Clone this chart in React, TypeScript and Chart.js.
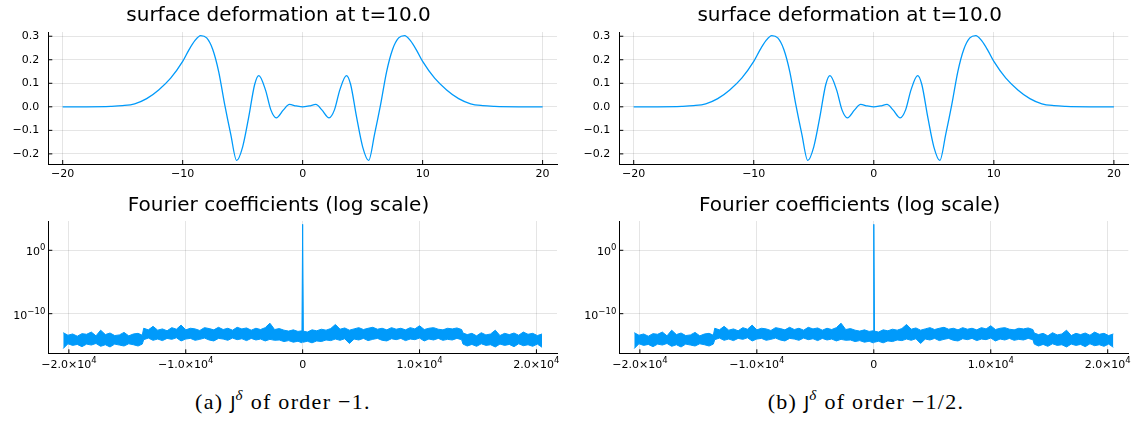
import React, { useEffect, useRef } from 'react';
import { Chart, registerables } from 'chart.js';
Chart.register(...registerables);

const BLUE = '#009AFA';

// ---- surface deformation at t=10.0 ----
const surfX = [-20, -18, -16, -15, -14, -13, -12, -11, -10, -9.5, -9, -8.5, -8, -7.5, -7, -6.5, -6, -5.5, -5, -4.5, -4, -3.65, -3.1, -2.65, -2.2, -1.6, -1.1, -0.55, 0,
  0.55, 1.1, 1.6, 2.2, 2.65, 3.1, 3.65, 4, 4.5, 5, 5.5, 6, 6.5, 7, 7.5, 8, 8.5, 9, 9.5, 10, 11, 12, 13, 14, 15, 16, 18, 20];
const surfY = [0, 0.0002, 0.002, 0.005, 0.013, 0.035, 0.072, 0.122, 0.193, 0.24, 0.28, 0.303, 0.293, 0.245, 0.15, 0.01, -0.115, -0.228, -0.17, -0.045, 0.095, 0.133, 0.072, -0.013, -0.047, -0.013, 0.01, 0.004, 0,
  0.004, 0.01, -0.013, -0.047, -0.013, 0.072, 0.133, 0.095, -0.045, -0.17, -0.228, -0.115, 0.01, 0.15, 0.245, 0.293, 0.303, 0.28, 0.24, 0.193, 0.122, 0.072, 0.035, 0.013, 0.005, 0.002, 0.0002, 0];
const surfXTicks = [-20, -10, 0, 10, 20];
const surfYTicks = [-0.2, -0.1, 0, 0.1, 0.2, 0.3];
const surfTitle = 'surface deformation at t=10.0';

// ---- Fourier coefficients (log scale) ----
const bandK = [
  -20480, -20080, -19680, -19280, -18880, -18480, -18080, -17680, -17280, -16880, -16480, -16080, -15680, -15280, -14880, -14480, -14080, -13720,
  -13600, -13200, -12800, -12400, -12000, -11600, -11200, -10800, -10400, -10000, -9600, -9200, -8800, -8400, -8000, -7600, -7200, -6800, -6400, -6000,
  -5600, -5200, -4800, -4400, -4000, -3600, -3200, -2800, -2400, -2000, -1600, -1200, -800, -400, -60,
  0,
  60, 400, 800, 1200, 1600, 2000, 2400, 2800, 3200, 3600, 4000, 4400, 4800, 5200, 5600, 6000, 6400, 6800, 7200, 7600,
  8000, 8400, 8800, 9200, 9600, 10000, 10400, 10800, 11200, 11600, 12000, 12400, 12800, 13200, 13600,
  13720, 14080, 14480, 14880, 15280, 15680, 16080, 16480, 16880, 17280, 17680, 18080, 18480, 18880, 19280, 19680, 20080, 20480];
// log10 of the upper / lower edge of the coefficient band
const bandUpperExp = [
  -13.0, -13.4, -13.2, -13.55, -13.15, -13.25, -12.9, -13.5, -12.6, -13.3, -13.05, -13.45, -13.35, -12.95, -13.5, -13.2, -13.1, -13.4,
  -12.3, -12.55, -12.0, -12.6, -12.4, -12.7, -12.2, -12.45, -11.8, -12.55, -12.3, -12.4, -12.65, -12.2, -12.35, -12.55, -12.15, -12.5, -12.3, -12.6,
  -12.15, -12.4, -12.25, -12.6, -12.3, -12.5, -12.2, -11.5, -12.5, -12.35, -12.6, -12.75, -12.55, -12.8, -12.7,
  4.1,
  -12.75, -12.9, -12.55, -12.7, -12.45, -12.6, -12.35, -11.7, -12.45, -12.25, -12.6, -12.4, -12.2, -12.5, -12.3, -12.15, -12.45, -12.3, -12.55, -12.2,
  -12.45, -12.3, -12.55, -12.2, -12.4, -11.9, -12.5, -12.3, -12.2, -12.45, -12.55, -12.3, -12.4, -12.25, -12.5,
  -13.05, -13.3, -13.1, -13.5, -13.0, -13.35, -13.2, -12.6, -13.45, -13.1, -13.3, -13.05, -13.4, -12.9, -13.25, -13.1, -13.45, -13.2];
const bandLowerExp = [
  -15.5, -14.75, -15.0, -14.85, -15.2, -14.8, -14.95, -14.7, -15.15, -14.9, -15.25, -14.8, -14.95, -15.1, -14.75, -14.9, -15.1, -14.8,
  -14.1, -13.85, -14.2, -14.0, -14.25, -13.9, -14.05, -13.8, -14.3, -14.0, -13.9, -14.2, -14.05, -13.85, -14.15, -14.3, -13.9, -14.0, -14.2, -13.85,
  -14.1, -13.95, -14.25, -13.9, -14.15, -14.0, -14.3, -14.05, -14.2, -14.15, -14.4, -14.25, -14.5, -14.35, -14.6,
  -14.4,
  -14.5, -14.35, -14.6, -14.3, -14.4, -14.15, -14.25, -14.0, -14.2, -13.95, -14.7, -14.0, -14.15, -13.9, -14.25, -14.05, -13.9, -14.2, -14.3, -13.95,
  -14.1, -13.9, -14.25, -14.0, -14.1, -13.85, -14.3, -14.0, -14.15, -13.9, -14.2, -14.05, -14.15, -13.9, -14.1,
  -14.8, -15.1, -14.85, -15.15, -14.75, -15.0, -14.9, -15.25, -14.8, -15.0, -14.85, -15.2, -14.75, -15.05, -14.9, -15.15, -14.8, -15.3];
const fourierXTicks = [-20000, -10000, 0, 10000, 20000];
const fourierXLabelBase = ['−2.0×10', '−1.0×10', '0', '1.0×10', '2.0×10'];
const fourierXLabelExp = ['4', '4', '', '4', '4'];
const fourierYTicks = [1, 1e-10];
const fourierYLabelBase = ['10', '10'];
const fourierYLabelExp = ['0', '−10'];
const fourierTitle = 'Fourier coefficients (log scale)';

const FONT = 'DejaVu Sans';
const tickFont = { family: FONT, size: 11 };
const titleFont = { family: FONT, size: 20, weight: 'normal' as const };
const gridOpts = { color: 'rgba(0,0,0,0.1)', lineWidth: 1, drawTicks: false };
const borderOpts = { display: true, color: '#000', width: 1 };

const inwardTicks = {
  id: 'inwardTicks',
  afterDatasetsDraw(chart: any) {
    const { ctx, chartArea, scales } = chart;
    ctx.save();
    ctx.strokeStyle = '#000';
    ctx.lineWidth = 1;
    scales.x.ticks.forEach((_t: any, i: number) => {
      const px = scales.x.getPixelForTick(i);
      ctx.beginPath();
      ctx.moveTo(px, chartArea.bottom);
      ctx.lineTo(px, chartArea.bottom - 4);
      ctx.stroke();
    });
    scales.y.ticks.forEach((_t: any, i: number) => {
      const py = scales.y.getPixelForTick(i);
      ctx.beginPath();
      ctx.moveTo(chartArea.left, py);
      ctx.lineTo(chartArea.left + 4, py);
      ctx.stroke();
    });
    ctx.restore();
  },
};

// tick labels with a raised exponent, placed on the library's own tick pixels
const supLabels = {
  id: 'supLabels',
  afterDraw(chart: any) {
    const { ctx, chartArea, scales } = chart;
    const baseF = `11px "${FONT}"`;
    const expF = `8.5px "${FONT}"`;
    ctx.save();
    ctx.fillStyle = '#000';
    ctx.textBaseline = 'alphabetic';
    ctx.textAlign = 'left';
    scales.x.ticks.forEach((_t: any, i: number) => {
      const px = scales.x.getPixelForTick(i);
      const b = fourierXLabelBase[i], e = fourierXLabelExp[i];
      ctx.font = baseF; const wb = ctx.measureText(b).width;
      ctx.font = expF; const we = e ? ctx.measureText(e).width : 0;
      const x0 = px - (wb + we) / 2;
      const yb = chartArea.bottom + 15;
      ctx.font = baseF; ctx.fillText(b, x0, yb);
      if (e) { ctx.font = expF; ctx.fillText(e, x0 + wb, yb - 5); }
    });
    scales.y.ticks.forEach((_t: any, i: number) => {
      const py = scales.y.getPixelForTick(i);
      const b = fourierYLabelBase[i], e = fourierYLabelExp[i];
      ctx.font = baseF; const wb = ctx.measureText(b).width;
      ctx.font = expF; const we = ctx.measureText(e).width;
      const x0 = chartArea.left - 3 - wb - we;
      const yb = py + 5;
      ctx.font = baseF; ctx.fillText(b, x0, yb);
      ctx.font = expF; ctx.fillText(e, x0 + wb, yb - 5);
    });
    ctx.restore();
  },
};

const fmtMinus = (s: string) => s.replace('-', '−');

function surfConfig(padRight: number): any {
  return {
    type: 'line',
    data: {
      datasets: [{
        data: surfX.map((x, i) => ({ x, y: surfY[i] })),
        borderColor: BLUE, borderWidth: 1.3, pointRadius: 0, fill: false,
        cubicInterpolationMode: 'monotone',
      }],
    },
    options: {
      animation: false, responsive: false,
      layout: { padding: { left: 0, right: padRight, top: 0, bottom: 0 } },
      plugins: {
        legend: { display: false }, tooltip: { enabled: false },
        title: { display: true, text: surfTitle, font: titleFont, color: '#000', padding: { top: 4, bottom: 4 } },
      },
      scales: {
        x: {
          type: 'linear', min: -21.2, max: 21.2,
          afterBuildTicks: (s: any) => { s.ticks = surfXTicks.map((v) => ({ value: v })); },
          afterFit: (s: any) => { s.height = 21; s.paddingLeft = 0; s.paddingRight = 0; },
          ticks: { font: tickFont, color: '#000', padding: 4, autoSkip: false, maxRotation: 0,
            callback: (v: number) => fmtMinus(String(v)) },
          grid: gridOpts, border: borderOpts,
        },
        y: {
          type: 'linear', min: -0.243, max: 0.318,
          afterBuildTicks: (s: any) => { s.ticks = surfYTicks.map((v) => ({ value: v })); },
          afterFit: (s: any) => { s.width = 48.3; s.paddingTop = 0; s.paddingBottom = 0; },
          ticks: { font: tickFont, color: '#000', padding: 9, autoSkip: false,
            callback: (v: number) => fmtMinus(v.toFixed(1)) },
          grid: gridOpts, border: borderOpts,
        },
      },
    },
    plugins: [inwardTicks],
  };
}

function fourierConfig(padRight: number): any {
  return {
    type: 'line',
    data: {
      datasets: [
        {
          data: bandK.map((k, i) => ({ x: k, y: Math.pow(10, bandLowerExp[i]) })),
          borderColor: BLUE, borderWidth: 1, pointRadius: 0, fill: false,
        },
        {
          data: bandK.map((k, i) => ({ x: k, y: Math.pow(10, bandUpperExp[i]) })),
          borderColor: BLUE, borderWidth: 1, pointRadius: 0, fill: '-1', backgroundColor: BLUE,
        },
      ],
    },
    options: {
      animation: false, responsive: false,
      layout: { padding: { left: 0, right: padRight, top: 0, bottom: 0 } },
      plugins: {
        legend: { display: false }, tooltip: { enabled: false },
        title: { display: true, text: fourierTitle, font: titleFont, color: '#000', padding: { top: 8.5, bottom: 3.5 } },
      },
      scales: {
        x: {
          type: 'linear', min: -21760, max: 21760,
          afterBuildTicks: (s: any) => { s.ticks = fourierXTicks.map((v) => ({ value: v })); },
          afterFit: (s: any) => { s.height = 21.7; s.paddingLeft = 0; s.paddingRight = 0; },
          ticks: { display: false },
          grid: gridOpts, border: borderOpts,
        },
        y: {
          type: 'logarithmic', min: Math.pow(10, -16.25), max: Math.pow(10, 4.62),
          afterBuildTicks: (s: any) => { s.ticks = fourierYTicks.map((v) => ({ value: v })); },
          afterFit: (s: any) => { s.width = 48.3; s.paddingTop = 0; s.paddingBottom = 0; },
          ticks: { display: false },
          grid: gridOpts, border: borderOpts,
        },
      },
    },
    plugins: [inwardTicks, supLabels],
  };
}

function ChartBox(props: { left: number; top: number; width: number; height: number; make: () => any }) {
  const ref = useRef<HTMLCanvasElement>(null);
  useEffect(() => {
    const c = new Chart(ref.current as HTMLCanvasElement, props.make());
    return () => c.destroy();
  }, []);
  return (
    <canvas ref={ref} width={props.width} height={props.height}
      style={{ position: 'absolute', left: props.left, top: props.top, width: props.width, height: props.height }} />
  );
}

function Caption(props: { center: number; label: string; order: string }) {
  return (
    <div style={{ position: 'absolute', left: props.center - 160, top: 391, width: 320, textAlign: 'center',
      fontFamily: 'Liberation Serif', fontSize: 22, lineHeight: '22px', letterSpacing: '1.3px', wordSpacing: '0px',
      color: '#000', whiteSpace: 'nowrap' }}>
      {props.label} <span style={{ fontFamily: 'DejaVu Sans', fontSize: 18, letterSpacing: 0 }}>J</span>
      <span style={{ fontStyle: 'italic', fontSize: 15, position: 'relative', top: -9 }}>δ</span> of order {props.order}
    </div>
  );
}

export default function App() {
  return (
    <div style={{ position: 'fixed', left: 0, top: 0, width: 1142, height: 433, background: '#fff', overflow: 'hidden' }}>
      <ChartBox left={0} top={0} width={570} height={185} make={() => surfConfig(13)} />
      <ChartBox left={571} top={0} width={571} height={185} make={() => surfConfig(13.7)} />
      <ChartBox left={0} top={185} width={570} height={190} make={() => fourierConfig(13)} />
      <ChartBox left={571} top={185} width={571} height={190} make={() => fourierConfig(13.7)} />
      <Caption center={283} label="(a)" order="−1." />
      <Caption center={866} label="(b)" order="−1/2." />
    </div>
  );
}
